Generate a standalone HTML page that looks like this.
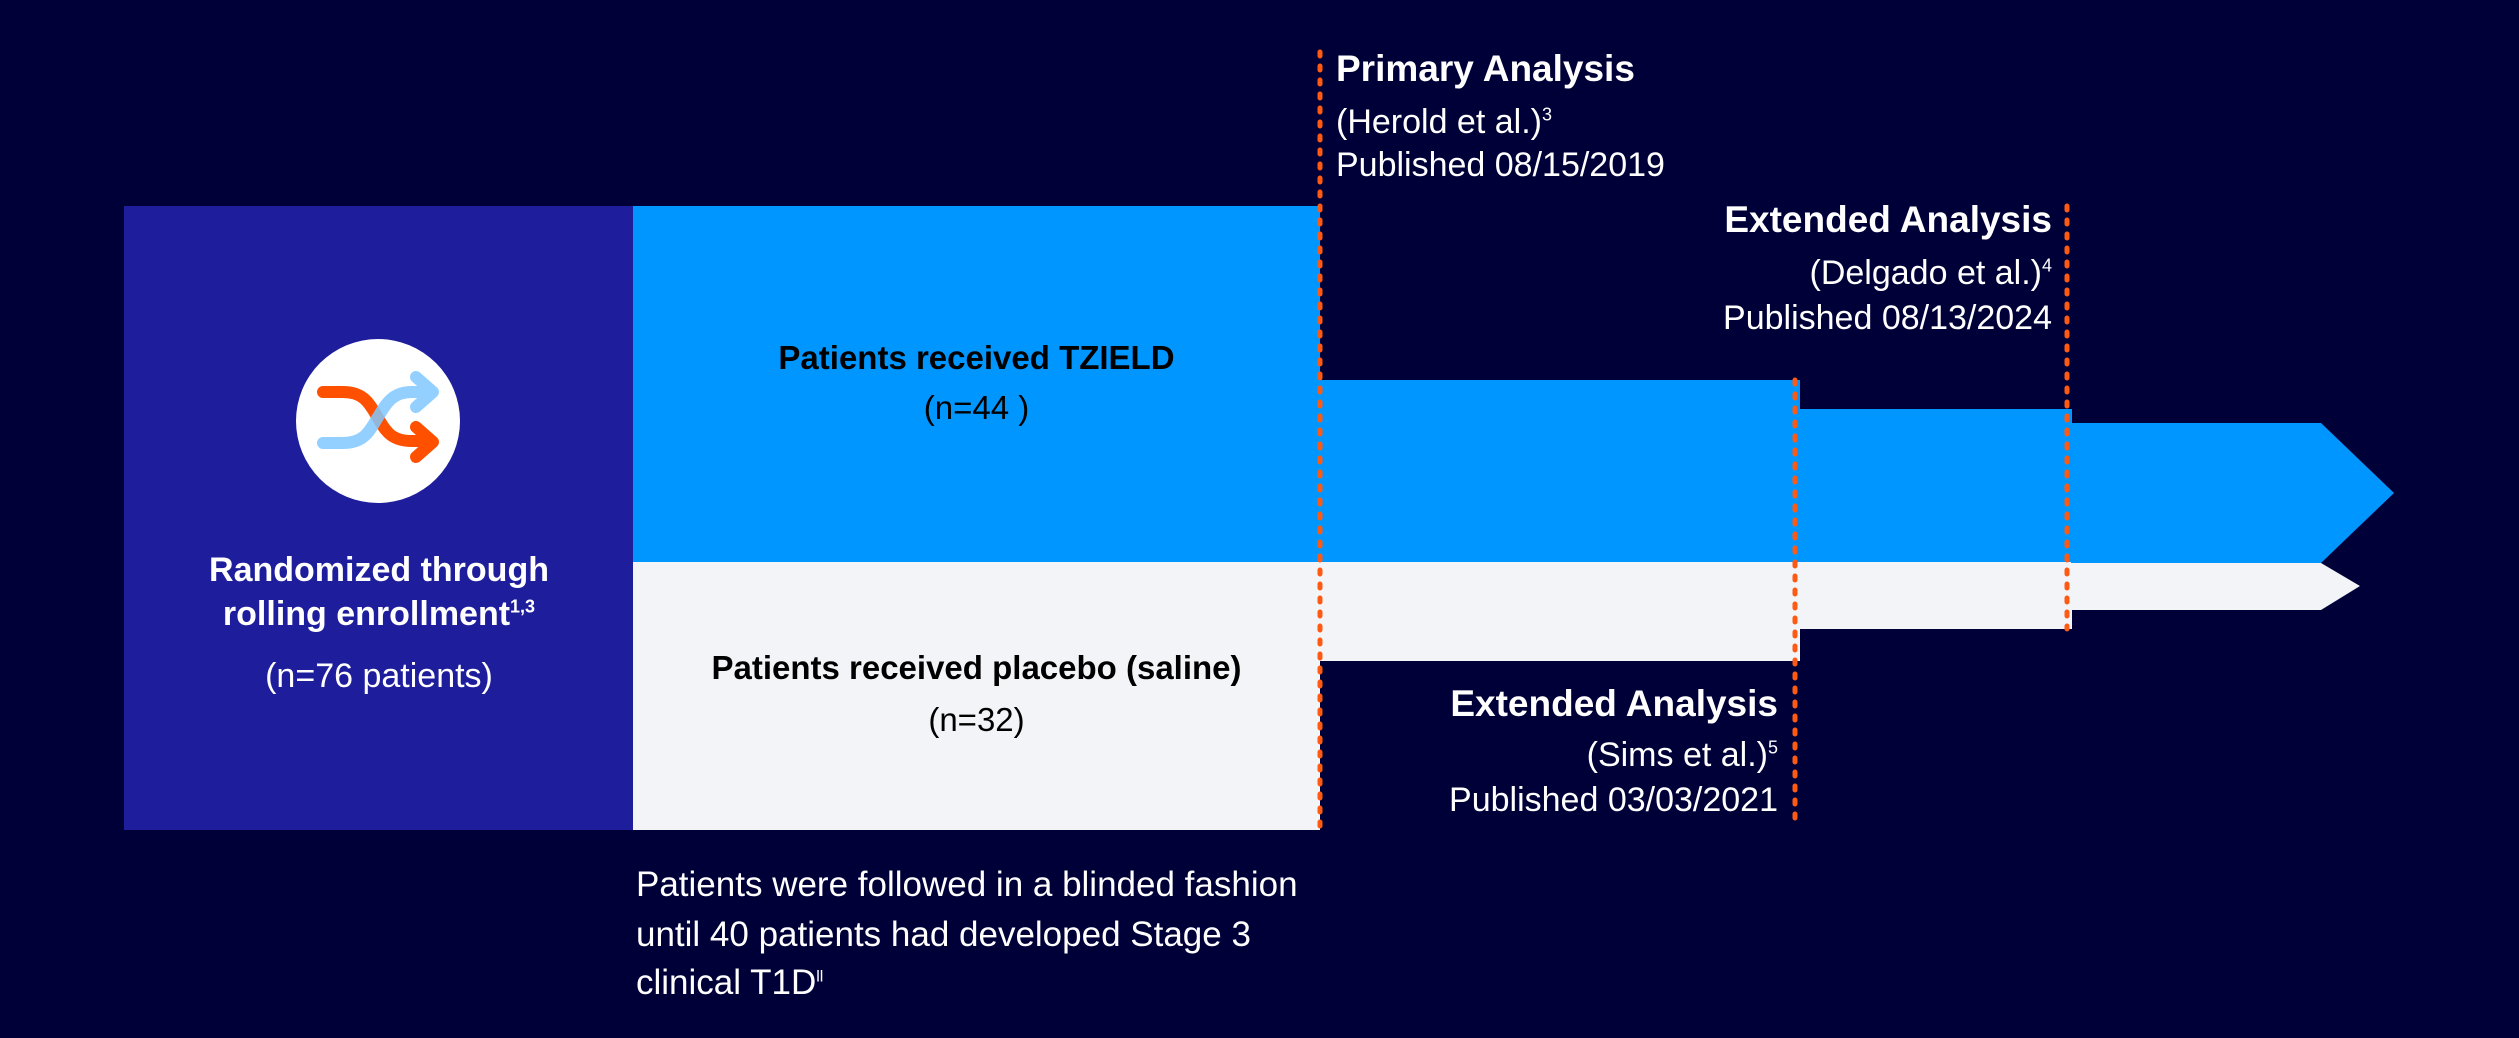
<!DOCTYPE html>
<html><head><meta charset="utf-8"><style>
body{margin:0;width:2519px;height:1038px;background:#000038;position:relative;overflow:hidden;font-family:"Liberation Sans",sans-serif;}
.t{position:absolute;white-space:nowrap;line-height:40px;}
.b{font-weight:bold;}
sup{line-height:0;}
</style></head><body>
<svg width="2519" height="1038" style="position:absolute;left:0;top:0">
<rect x="124" y="206" width="510" height="624" fill="#1e1e9c"/>
<rect x="633" y="206" width="687" height="357" fill="#0096ff"/>
<rect x="633" y="562" width="687" height="268" fill="#f2f4f8"/>
<rect x="1319" y="380" width="481" height="183" fill="#0096ff"/>
<rect x="1319" y="562" width="481" height="99" fill="#f2f4f8"/>
<rect x="1799" y="409" width="273" height="154" fill="#0096ff"/>
<rect x="1799" y="562" width="273" height="67" fill="#f2f4f8"/>
<polygon points="2071,423 2321,423 2394,493 2321,563 2071,563" fill="#0096ff"/>
<polygon points="2071,563 2321,563 2360,586 2321,610 2071,610" fill="#f2f4f8"/>
<g stroke="#ff5a14" stroke-width="5" stroke-linecap="round" stroke-dasharray="4 10">
<line x1="1320" y1="52" x2="1320" y2="829"/>
<line x1="1795" y1="380" x2="1795" y2="821"/>
<line x1="2067" y1="206" x2="2067" y2="629"/>
</g>
<circle cx="378" cy="421" r="82" fill="#fff"/>
<g fill="none" stroke-width="12" stroke-linecap="round" stroke-linejoin="round">
<path d="M323 392 H343 C365 392 370 405 378 418 C386 432 392 441 412 441 H432 M416 427 L433 442 L416 457" stroke="#ff5000"/>
<path d="M323 443 H343 C365 443 370 430 378 417 C386 404 392 392 412 392 H432 M416 377 L433 392 L416 407" stroke="#80c8ff" opacity="0.85"/>
</g>
</svg>
<div class="t b" style="left:124px;width:510px;text-align:center;top:550px;font-size:34px;color:#fff">Randomized through</div>
<div class="t b" style="left:124px;width:510px;text-align:center;top:594px;font-size:34px;color:#fff">rolling enrollment<sup style="font-size:18px">1,3</sup></div>
<div class="t" style="left:124px;width:510px;text-align:center;top:656px;font-size:34px;color:#fff">(n=76 patients)</div>
<div class="t b" style="left:633px;width:687px;text-align:center;top:338px;font-size:33px;color:#000">Patients received TZIELD</div>
<div class="t" style="left:633px;width:687px;text-align:center;top:388px;font-size:33px;color:#000">(n=44 )</div>
<div class="t b" style="left:633px;width:687px;text-align:center;top:648px;font-size:33px;color:#000">Patients received placebo (saline)</div>
<div class="t" style="left:633px;width:687px;text-align:center;top:700px;font-size:33px;color:#000">(n=32)</div>
<div class="t b" style="left:1336px;top:49px;font-size:37px;color:#fff">Primary Analysis</div>
<div class="t" style="left:1336px;top:102px;font-size:34px;color:#fff">(Herold et al.)<sup style="font-size:18px">3</sup></div>
<div class="t" style="left:1336px;top:145px;font-size:34px;color:#fff">Published 08/15/2019</div>
<div class="t b" style="right:467px;top:200px;font-size:37px;color:#fff">Extended Analysis</div>
<div class="t" style="right:467px;top:253px;font-size:34px;color:#fff">(Delgado et al.)<sup style="font-size:18px">4</sup></div>
<div class="t" style="right:467px;top:298px;font-size:34px;color:#fff">Published 08/13/2024</div>
<div class="t b" style="right:741px;top:684px;font-size:37px;color:#fff">Extended Analysis</div>
<div class="t" style="right:741px;top:735px;font-size:34px;color:#fff">(Sims et al.)<sup style="font-size:18px">5</sup></div>
<div class="t" style="right:741px;top:780px;font-size:34px;color:#fff">Published 03/03/2021</div>
<div class="t" style="left:636px;top:865px;font-size:35px;color:#fff">Patients were followed in a blinded fashion</div>
<div class="t" style="left:636px;top:915px;font-size:35px;color:#fff">until 40 patients had developed Stage 3</div>
<div class="t" style="left:636px;top:963px;font-size:35px;color:#fff">clinical T1D<sup style="font-size:16px">ll</sup></div>
</body></html>
